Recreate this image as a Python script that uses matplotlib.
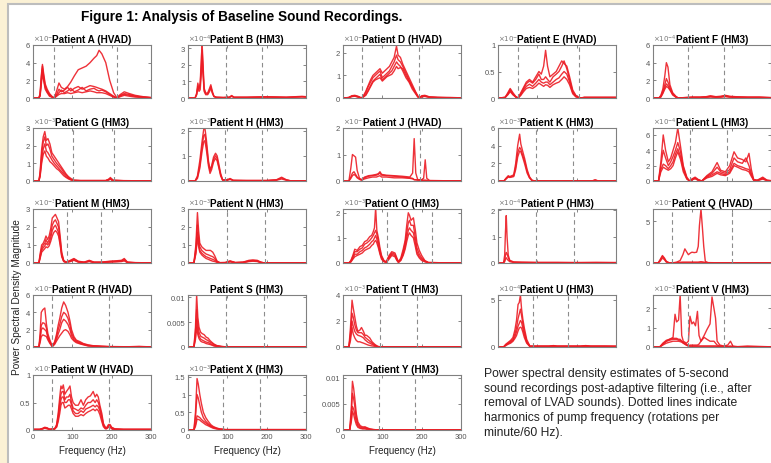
import matplotlib
matplotlib.use('Agg')
import matplotlib.pyplot as plt
from matplotlib.patches import Rectangle

plt.rcParams['font.family'] = ['Liberation Sans', 'DejaVu Sans']

# ---- data ----
patients = ['A', 'B', 'D', 'E', 'F',
            'G', 'H', 'J', 'K', 'L',
            'M', 'N', 'O', 'P', 'Q',
            'R', 'S', 'T', 'U', 'V',
            'W', 'X', 'Y']
pumps = ['HVAD', 'HM3', 'HVAD', 'HVAD', 'HM3',
         'HM3', 'HM3', 'HVAD', 'HM3', 'HM3',
         'HM3', 'HM3', 'HM3', 'HM3', 'HVAD',
         'HVAD', 'HM3', 'HM3', 'HM3', 'HM3',
         'HVAD', 'HM3', 'HM3']

# pump harmonics (Hz), dashed lines
harmonics = [[53, 213], [97, 189], [48, 193], [52, 207], [90, 180],
             [102, 207], [95, 187], [49, 196], [96, 190], [93, 187],
             [87, 172], [98, 195], [113, 225], [96, 193], [49, 200],
             [49, 194], [97, 193], [94, 189], [88, 178], [90, 180],
             [48, 194], [90, 184], [92, 184]]

# y-axis: exponent of the multiplier (None = plain), top limit, ticks
exponents = [-5, -4, -5, -5, -4,
             -3, -3, -5, -3, -4,
             -3, -3, -3, -4, -5,
             -5, None, -3, -4, -3,
             -5, -3, None]
ytops = [6, 3.2, 2.35, 1, 6,
         3, 2.1, 2, 6, 6.9,
         3, 3, 2.15, 2.05, 6.5,
         6, 0.0105, 4, 5.5, 2.7,
         1, 1.55, 0.0105]
yticks = [[0, 2, 4, 6], [0, 1, 2, 3], [0, 1, 2], [0, 0.5, 1], [0, 2, 4, 6],
          [0, 1, 2, 3], [0, 1, 2], [0, 1, 2], [0, 2, 4, 6], [0, 2, 4, 6],
          [0, 1, 2, 3], [0, 1, 2, 3], [0, 1, 2], [0, 1, 2], [0, 5],
          [0, 2, 4, 6], [0, 0.005, 0.01], [0, 2, 4], [0, 5], [0, 1, 2],
          [0, 0.5, 1], [0, 0.5, 1, 1.5], [0, 0.005, 0.01]]

freq_A = [0, 15, 18, 21, 24, 27, 31, 36, 42, 48, 54, 60, 66, 72, 80, 88, 96, 105, 115, 125, 135, 145, 155, 162, 168, 175, 185, 195, 205, 213, 222, 232, 245, 260, 280, 300]
psd_A = [
    [0, 0, 0.5, 2.5, 3.8, 2.8, 1.6, 1.0, 0.5, 0.2, 0, 0.8, 1.7, 1.2, 1.0, 1.3, 1.8, 2.5, 3.2, 3.4, 3.6, 4.0, 4.5, 4.8, 5.4, 5.0, 4.0, 2.0, 0.6, 0.05, 0.4, 0.7, 0.5, 0.3, 0.15, 0.05],
    [0, 0, 0.4, 2.2, 3.6, 2.5, 1.4, 0.8, 0.4, 0.15, 0, 0.4, 1.0, 0.7, 0.9, 1.2, 0.8, 1.1, 1.3, 1.0, 1.2, 1.4, 1.3, 1.2, 1.1, 1.0, 0.8, 0.5, 0.2, 0, 0.3, 0.5, 0.4, 0.2, 0.1, 0.05],
    [0, 0, 0.3, 1.8, 3.3, 2.2, 1.2, 0.7, 0.3, 0.1, 0, 0.3, 0.6, 0.9, 0.6, 0.8, 1.1, 0.7, 0.9, 1.2, 0.8, 1.0, 1.1, 0.9, 0.8, 0.9, 0.7, 0.4, 0.15, 0, 0.25, 0.4, 0.3, 0.2, 0.1, 0.03],
    [0, 0, 0.2, 1.5, 2.8, 2.0, 1.0, 0.6, 0.2, 0.1, 0, 0.2, 0.4, 0.5, 0.5, 0.6, 0.5, 0.6, 0.7, 0.6, 0.7, 0.8, 0.7, 0.6, 0.6, 0.6, 0.5, 0.3, 0.1, 0, 0.15, 0.3, 0.2, 0.1, 0.05, 0.02],
]

freq_B = [0, 18, 22, 25, 28, 31, 34, 36, 38, 41, 45, 50, 55, 58, 62, 66, 72, 90, 105, 111, 117, 150, 200, 250, 290, 300]
psd_B = [
    [0, 0, 0.3, 0.9, 0.6, 0.9, 2.5, 3.2, 2.2, 0.6, 0.3, 0.3, 0.6, 0.8, 0.4, 0.1, 0.05, 0.03, 0.05, 0.15, 0.05, 0.05, 0.08, 0.05, 0.1, 0.08],
    [0, 0, 0.2, 0.7, 0.5, 0.8, 2.0, 2.9, 1.8, 0.5, 0.25, 0.25, 0.5, 0.7, 0.3, 0.1, 0.04, 0.03, 0.04, 0.12, 0.04, 0.04, 0.06, 0.04, 0.08, 0.06],
    [0, 0, 0.2, 0.6, 0.4, 0.5, 1.5, 2.5, 1.5, 0.4, 0.2, 0.2, 0.4, 0.6, 0.3, 0.08, 0.03, 0.02, 0.03, 0.1, 0.03, 0.03, 0.05, 0.03, 0.06, 0.05],
]

freq_D = [0, 15, 22, 30, 38, 47, 52, 58, 64, 70, 76, 82, 88, 94, 100, 106, 112, 118, 124, 130, 136, 140, 146, 152, 160, 168, 176, 184, 190, 194, 200, 208, 220, 240, 270, 300]
psd_D = [
    [0, 0.02, 0.1, 0.12, 0.08, 0, 0.1, 0.3, 0.55, 0.8, 1.0, 1.1, 1.2, 1.3, 1.1, 1.2, 1.3, 1.4, 1.6, 1.8, 2.3, 1.9, 1.8, 1.5, 1.2, 0.9, 0.6, 0.3, 0.1, 0, 0.1, 0.12, 0.05, 0.03, 0.02, 0.01],
    [0, 0.02, 0.08, 0.1, 0.06, 0, 0.08, 0.25, 0.5, 0.7, 0.9, 1.0, 1.1, 1.2, 0.9, 1.0, 1.1, 1.2, 1.4, 1.6, 1.9, 1.7, 1.6, 1.4, 1.1, 0.8, 0.5, 0.25, 0.08, 0, 0.08, 0.1, 0.04, 0.02, 0.02, 0.01],
    [0, 0.02, 0.07, 0.09, 0.05, 0, 0.05, 0.15, 0.35, 0.55, 0.75, 0.85, 0.95, 1.05, 0.8, 0.9, 1.0, 1.1, 1.2, 1.4, 1.6, 1.5, 1.4, 1.2, 0.9, 0.7, 0.4, 0.2, 0.05, 0, 0.06, 0.08, 0.03, 0.02, 0.01, 0.01],
    [0, 0.02, 0.06, 0.08, 0.04, 0, 0.05, 0.12, 0.3, 0.5, 0.7, 0.8, 0.85, 0.9, 0.75, 0.85, 0.95, 1.0, 1.05, 1.2, 1.4, 1.3, 1.35, 1.3, 1.0, 0.75, 0.5, 0.25, 0.06, 0, 0.05, 0.07, 0.03, 0.02, 0.01, 0.01],
]

freq_E = [0, 18, 25, 31, 38, 45, 51, 58, 65, 72, 80, 88, 96, 104, 110, 116, 121, 126, 132, 140, 148, 155, 162, 168, 175, 182, 190, 198, 207, 220, 260, 300]
psd_E = [
    [0, 0.01, 0.1, 0.18, 0.1, 0.03, 0, 0.1, 0.2, 0.3, 0.35, 0.3, 0.4, 0.5, 0.45, 0.6, 0.9, 0.6, 0.4, 0.45, 0.5, 0.6, 0.7, 0.65, 0.6, 0.4, 0.15, 0.05, 0, 0.01, 0.01, 0.01],
    [0, 0.01, 0.08, 0.16, 0.08, 0.02, 0, 0.08, 0.18, 0.27, 0.32, 0.28, 0.35, 0.45, 0.35, 0.35, 0.4, 0.35, 0.3, 0.4, 0.45, 0.5, 0.6, 0.7, 0.55, 0.35, 0.12, 0.04, 0, 0.01, 0.01, 0.01],
    [0, 0.01, 0.07, 0.14, 0.07, 0.02, 0, 0.06, 0.15, 0.22, 0.26, 0.22, 0.28, 0.35, 0.3, 0.28, 0.3, 0.3, 0.25, 0.3, 0.35, 0.38, 0.45, 0.5, 0.45, 0.3, 0.1, 0.03, 0, 0.01, 0.01, 0.01],
    [0, 0.01, 0.06, 0.12, 0.06, 0.02, 0, 0.05, 0.12, 0.18, 0.2, 0.18, 0.22, 0.28, 0.25, 0.22, 0.25, 0.24, 0.2, 0.25, 0.28, 0.3, 0.35, 0.4, 0.35, 0.25, 0.08, 0.02, 0, 0.01, 0.01, 0.01],
]

freq_F = [0, 15, 20, 25, 30, 34, 38, 43, 50, 58, 64, 80, 100, 120, 135, 146, 160, 172, 184, 195, 210, 240, 270, 300]
psd_F = [
    [0, 0, 0.3, 1.0, 2.5, 4.0, 3.5, 1.5, 0.6, 0.2, 0, 0.05, 0.1, 0.1, 0.15, 0.25, 0.15, 0.2, 0.3, 0.2, 0.15, 0.1, 0.1, 0.05],
    [0, 0, 0.2, 0.8, 1.5, 2.2, 1.8, 1.2, 0.5, 0.15, 0, 0.04, 0.08, 0.08, 0.12, 0.2, 0.12, 0.15, 0.25, 0.15, 0.1, 0.08, 0.08, 0.04],
    [0, 0, 0.15, 0.6, 1.2, 1.6, 1.4, 1.0, 0.4, 0.1, 0, 0.03, 0.06, 0.06, 0.1, 0.15, 0.1, 0.12, 0.2, 0.12, 0.08, 0.06, 0.06, 0.03],
    [0, 0, 0.1, 0.5, 1.0, 1.3, 1.2, 0.9, 0.35, 0.1, 0, 0.02, 0.05, 0.05, 0.08, 0.12, 0.08, 0.1, 0.15, 0.1, 0.06, 0.05, 0.05, 0.02],
]

freq_G = [0, 15, 18, 22, 26, 30, 34, 38, 43, 48, 54, 60, 66, 72, 78, 84, 90, 96, 102, 120, 150, 185, 192, 197, 202, 230, 300]
psd_G = [
    [0, 0, 0.5, 1.8, 2.5, 2.8, 2.3, 2.4, 2.1, 1.6, 1.4, 1.2, 1.0, 0.8, 0.6, 0.4, 0.25, 0.15, 0.05, 0.03, 0.03, 0.03, 0.1, 0.2, 0.05, 0.02, 0.01],
    [0, 0, 0.4, 1.5, 2.2, 2.5, 2.0, 2.1, 1.8, 1.4, 1.2, 1.0, 0.85, 0.7, 0.5, 0.35, 0.2, 0.1, 0.04, 0.02, 0.02, 0.02, 0.08, 0.15, 0.04, 0.02, 0.01],
    [0, 0, 0.3, 1.2, 1.8, 2.1, 1.7, 1.6, 1.4, 1.2, 1.0, 0.85, 0.7, 0.55, 0.4, 0.25, 0.15, 0.08, 0.03, 0.02, 0.02, 0.02, 0.06, 0.12, 0.03, 0.01, 0.01],
    [0, 0, 0.25, 1.0, 1.5, 1.7, 1.4, 1.3, 1.1, 1.0, 0.85, 0.7, 0.6, 0.45, 0.3, 0.2, 0.12, 0.06, 0.02, 0.01, 0.01, 0.01, 0.05, 0.1, 0.02, 0.01, 0.01],
]

freq_H = [0, 18, 24, 30, 36, 40, 43, 47, 52, 56, 60, 65, 70, 74, 78, 83, 88, 100, 107, 115, 150, 200, 225, 238, 250, 260, 300]
psd_H = [
    [0, 0, 0.2, 0.8, 1.6, 2.05, 2.1, 1.6, 0.8, 0.45, 0.6, 0.95, 1.1, 1.0, 0.7, 0.3, 0.05, 0.05, 0.1, 0.03, 0.02, 0.02, 0.05, 0.15, 0.05, 0.01, 0.01],
    [0, 0, 0.15, 0.6, 1.4, 1.8, 1.85, 1.4, 0.7, 0.4, 0.55, 0.85, 1.0, 0.9, 0.6, 0.25, 0.04, 0.04, 0.08, 0.02, 0.02, 0.02, 0.04, 0.12, 0.04, 0.01, 0.01],
    [0, 0, 0.1, 0.5, 1.2, 1.55, 1.6, 1.2, 0.6, 0.3, 0.45, 0.75, 0.9, 0.8, 0.55, 0.2, 0.03, 0.03, 0.06, 0.02, 0.01, 0.01, 0.03, 0.08, 0.03, 0.01, 0.01],
]

freq_J = [0, 15, 20, 24, 28, 32, 36, 42, 47, 55, 65, 75, 85, 90, 94, 98, 110, 130, 150, 170, 177, 181, 185, 190, 200, 205, 209, 213, 220, 260, 300]
psd_J = [
    [0, 0, 0.5, 1.0, 0.95, 0.9, 0.4, 0.1, 0.05, 0.15, 0.2, 0.22, 0.25, 0.28, 0.35, 0.25, 0.22, 0.2, 0.18, 0.15, 0.3, 1.6, 0.3, 0.05, 0.05, 0.1, 0.8, 0.1, 0.02, 0.01, 0.01],
    [0, 0, 0.15, 0.3, 0.35, 0.25, 0.15, 0.08, 0.04, 0.12, 0.18, 0.2, 0.22, 0.25, 0.3, 0.22, 0.2, 0.18, 0.15, 0.12, 0.1, 0.05, 0.05, 0.04, 0.03, 0.03, 0.03, 0.02, 0.01, 0.01, 0.01],
    [0, 0, 0.1, 0.2, 0.25, 0.2, 0.12, 0.06, 0.03, 0.08, 0.12, 0.15, 0.15, 0.18, 0.2, 0.15, 0.15, 0.12, 0.12, 0.1, 0.08, 0.05, 0.04, 0.03, 0.02, 0.02, 0.02, 0.02, 0.01, 0.01, 0.01],
]

freq_K = [0, 15, 20, 26, 30, 35, 40, 45, 50, 55, 58, 62, 68, 74, 80, 86, 92, 150, 240, 247, 254, 300]
psd_K = [
    [0, 0, 0.3, 0.6, 0.5, 0.6, 0.7, 2.0, 4.0, 5.3, 4.2, 3.5, 2.5, 1.3, 0.5, 0.1, 0.02, 0.01, 0.02, 0.12, 0.02, 0.01],
    [0, 0, 0.25, 0.5, 0.45, 0.5, 0.6, 1.6, 3.2, 3.8, 3.6, 3.0, 2.2, 1.1, 0.4, 0.08, 0.02, 0.01, 0.02, 0.1, 0.02, 0.01],
    [0, 0, 0.2, 0.45, 0.4, 0.45, 0.5, 1.3, 2.7, 3.4, 3.3, 2.8, 1.9, 0.9, 0.35, 0.06, 0.01, 0.01, 0.01, 0.08, 0.01, 0.01],
]

freq_L = [0, 14, 20, 26, 32, 39, 45, 51, 57, 63, 70, 77, 86, 93, 100, 107, 115, 124, 137, 150, 163, 172, 184, 195, 206, 215, 227, 236, 244, 250, 256, 265, 279, 290, 300]
psd_L = [
    [0, 0, 2.5, 6.0, 4.0, 2.5, 3.0, 4.0, 5.0, 6.9, 4.5, 2.0, 0.5, 0, 0.3, 0.5, 0.2, 0, 0.7, 1.2, 2.4, 1.4, 1.2, 2.0, 3.8, 3.0, 2.8, 2.5, 3.6, 1.5, 0.2, 0.1, 0.5, 0.1, 0.05],
    [0, 0, 2.0, 4.0, 3.0, 2.0, 2.5, 3.2, 4.0, 5.0, 3.8, 1.8, 0.4, 0, 0.25, 0.4, 0.15, 0, 0.6, 1.0, 1.8, 1.2, 1.0, 1.5, 3.0, 2.5, 2.3, 3.0, 2.0, 1.0, 0.15, 0.08, 0.4, 0.08, 0.04],
    [0, 0, 1.5, 2.2, 2.0, 1.6, 2.0, 2.5, 3.5, 4.2, 3.2, 1.5, 0.3, 0, 0.2, 0.35, 0.1, 0, 0.5, 0.8, 1.2, 1.0, 0.8, 1.2, 2.3, 2.0, 1.8, 1.6, 1.5, 0.8, 0.1, 0.05, 0.3, 0.06, 0.03],
    [0, 0, 1.2, 1.8, 1.6, 1.4, 1.6, 2.0, 3.0, 3.8, 2.8, 1.2, 0.25, 0, 0.15, 0.3, 0.08, 0, 0.4, 0.6, 1.0, 0.8, 0.7, 1.0, 2.0, 1.8, 1.5, 1.4, 1.2, 0.6, 0.08, 0.04, 0.25, 0.05, 0.02],
]

freq_M = [0, 15, 18, 22, 26, 30, 33, 37, 41, 45, 49, 53, 57, 61, 65, 69, 73, 78, 84, 95, 104, 115, 130, 143, 155, 175, 195, 210, 225, 232, 240, 260, 300]
psd_M = [
    [0, 0, 0.5, 1.0, 1.1, 1.3, 1.5, 1.3, 1.5, 1.9, 2.5, 2.6, 2.7, 2.5, 2.3, 1.5, 0.6, 0.15, 0.05, 0.15, 0.25, 0.1, 0.05, 0.15, 0.05, 0.05, 0.1, 0.12, 0.15, 0.25, 0.05, 0.02, 0.01],
    [0, 0, 0.4, 0.8, 1.0, 1.1, 1.3, 1.1, 1.3, 1.6, 2.1, 2.3, 2.4, 2.2, 2.0, 1.3, 0.5, 0.12, 0.04, 0.12, 0.22, 0.08, 0.04, 0.12, 0.04, 0.04, 0.08, 0.1, 0.12, 0.2, 0.04, 0.02, 0.01],
    [0, 0, 0.3, 0.7, 0.85, 0.95, 1.1, 1.0, 1.1, 1.4, 1.8, 2.0, 2.1, 1.9, 1.7, 1.1, 0.4, 0.1, 0.03, 0.1, 0.18, 0.06, 0.03, 0.1, 0.03, 0.03, 0.06, 0.08, 0.1, 0.15, 0.03, 0.01, 0.01],
    [0, 0, 0.25, 0.6, 0.7, 0.8, 0.9, 0.85, 0.95, 1.2, 1.5, 1.7, 1.8, 1.7, 1.5, 1.0, 0.35, 0.08, 0.02, 0.08, 0.15, 0.05, 0.02, 0.08, 0.02, 0.02, 0.05, 0.06, 0.08, 0.12, 0.02, 0.01, 0.01],
]

freq_N = [0, 15, 20, 24, 27, 30, 35, 40, 46, 52, 57, 63, 68, 74, 81, 95, 107, 120, 140, 155, 165, 176, 185, 193, 230, 300]
psd_N = [
    [0, 0, 1.0, 2.8, 1.8, 1.1, 0.9, 0.8, 0.7, 0.7, 0.7, 0.6, 0.4, 0.1, 0.02, 0.03, 0.12, 0.03, 0.05, 0.15, 0.17, 0.15, 0.05, 0.01, 0.01, 0.01],
    [0, 0, 0.8, 2.1, 1.4, 0.9, 0.7, 0.6, 0.5, 0.45, 0.4, 0.35, 0.25, 0.08, 0.02, 0.02, 0.1, 0.02, 0.04, 0.12, 0.14, 0.12, 0.04, 0.01, 0.01, 0.01],
    [0, 0, 0.6, 1.7, 1.1, 0.7, 0.55, 0.45, 0.35, 0.3, 0.25, 0.2, 0.15, 0.05, 0.01, 0.02, 0.08, 0.02, 0.03, 0.1, 0.12, 0.1, 0.03, 0.01, 0.01, 0.01],
    [0, 0, 0.5, 1.4, 0.9, 0.6, 0.45, 0.35, 0.25, 0.2, 0.15, 0.1, 0.08, 0.03, 0.01, 0.01, 0.06, 0.01, 0.02, 0.08, 0.1, 0.08, 0.02, 0.01, 0.01, 0.01],
]

freq_O = [0, 15, 20, 25, 30, 36, 43, 49, 55, 61, 68, 73, 77, 80, 83, 86, 90, 94, 98, 104, 110, 117, 124, 132, 137, 141, 147, 153, 158, 162, 166, 169, 173, 179, 184, 188, 194, 200, 208, 217, 250, 300]
psd_O = [
    [0, 0, 0.1, 0.3, 0.55, 0.5, 0.65, 0.7, 0.85, 0.9, 1.05, 1.1, 1.25, 1.4, 2.2, 1.3, 1.0, 0.6, 0.3, 0.1, 0.05, 0.3, 0.45, 0.4, 0.2, 0.05, 0.2, 0.55, 0.9, 1.5, 2.0, 1.9, 1.7, 1.8, 1.3, 0.8, 0.5, 0.3, 0.1, 0.02, 0.01, 0.01],
    [0, 0, 0.08, 0.25, 0.45, 0.45, 0.55, 0.6, 0.75, 0.8, 0.9, 1.0, 1.1, 1.2, 1.3, 1.15, 0.85, 0.5, 0.25, 0.08, 0.04, 0.25, 0.4, 0.35, 0.15, 0.04, 0.15, 0.45, 0.8, 1.2, 1.6, 1.7, 1.5, 1.5, 1.0, 0.6, 0.35, 0.2, 0.08, 0.02, 0.01, 0.01],
    [0, 0, 0.05, 0.18, 0.35, 0.35, 0.45, 0.5, 0.6, 0.65, 0.75, 0.85, 0.9, 1.0, 1.1, 0.95, 0.7, 0.4, 0.2, 0.06, 0.03, 0.2, 0.35, 0.3, 0.12, 0.03, 0.12, 0.35, 0.65, 1.0, 1.3, 1.4, 1.3, 1.2, 0.8, 0.45, 0.25, 0.15, 0.06, 0.01, 0.01, 0.01],
    [0, 0, 0.04, 0.15, 0.25, 0.3, 0.35, 0.4, 0.5, 0.55, 0.6, 0.7, 0.75, 0.85, 0.9, 0.8, 0.6, 0.35, 0.15, 0.05, 0.02, 0.15, 0.3, 0.25, 0.1, 0.02, 0.1, 0.3, 0.55, 0.85, 1.1, 1.2, 1.1, 1.0, 0.65, 0.35, 0.2, 0.1, 0.05, 0.01, 0.01, 0.01],
]

freq_P = [0, 14, 17, 19, 21, 23, 26, 30, 40, 60, 100, 150, 200, 250, 300]
psd_P = [
    [0, 0, 0.3, 1.2, 1.8, 1.0, 0.3, 0.1, 0.04, 0.03, 0.02, 0.02, 0.02, 0.02, 0.02],
    [0, 0, 0.1, 0.3, 0.4, 0.35, 0.2, 0.08, 0.03, 0.02, 0.02, 0.02, 0.01, 0.02, 0.01],
    [0, 0, 0.05, 0.15, 0.2, 0.15, 0.1, 0.05, 0.02, 0.02, 0.01, 0.01, 0.01, 0.01, 0.01],
]

freq_Q = [0, 13, 18, 24, 29, 34, 40, 47, 60, 69, 76, 81, 86, 90, 95, 99, 105, 111, 115, 118, 122, 126, 129, 133, 140, 160, 200, 250, 300]
psd_Q = [
    [0, 0, 0.4, 0.9, 0.6, 0.2, 0.05, 0, 0.1, 0.3, 1.0, 1.7, 1.3, 1.0, 1.2, 1.3, 1.25, 1.3, 2.0, 4.5, 6.5, 4.0, 2.0, 0.2, 0.05, 0.03, 0.03, 0.02, 0.01],
    [0, 0, 0.3, 0.8, 0.5, 0.15, 0.04, 0, 0.05, 0.08, 0.1, 0.1, 0.1, 0.1, 0.1, 0.1, 0.1, 0.1, 0.1, 0.12, 0.15, 0.12, 0.1, 0.05, 0.03, 0.02, 0.02, 0.02, 0.01],
    [0, 0, 0.2, 0.6, 0.4, 0.1, 0.03, 0, 0.03, 0.05, 0.06, 0.06, 0.06, 0.06, 0.06, 0.06, 0.06, 0.06, 0.06, 0.08, 0.1, 0.08, 0.06, 0.04, 0.02, 0.02, 0.01, 0.01, 0.01],
]

freq_R = [0, 15, 18, 21, 25, 30, 34, 38, 43, 49, 55, 60, 64, 68, 73, 78, 83, 89, 94, 98, 104, 110, 120, 128, 140, 153, 175, 196, 240, 270, 300]
psd_R = [
    [0, 0, 1.5, 4.0, 4.3, 4.5, 2.7, 1.5, 0.8, 0.1, 0.6, 1.5, 2.5, 3.3, 4.5, 5.2, 4.8, 4.0, 3.0, 2.0, 1.2, 0.8, 0.6, 0.4, 0.25, 0.15, 0.08, 0.05, 0.03, 0.06, 0.02],
    [0, 0, 1.0, 2.5, 2.8, 2.7, 2.2, 1.2, 0.6, 0.08, 0.5, 1.2, 2.0, 2.6, 3.5, 4.0, 3.8, 3.3, 2.5, 1.6, 1.0, 0.7, 0.5, 0.35, 0.2, 0.12, 0.07, 0.04, 0.03, 0.05, 0.02],
    [0, 0, 0.8, 2.0, 2.2, 2.0, 1.8, 1.0, 0.5, 0.05, 0.4, 0.9, 1.5, 2.0, 2.8, 3.2, 3.0, 2.6, 2.0, 1.3, 0.8, 0.6, 0.4, 0.3, 0.15, 0.1, 0.06, 0.03, 0.02, 0.04, 0.01],
    [0, 0, 0.5, 1.2, 1.4, 1.3, 1.2, 0.8, 0.4, 0.05, 0.3, 0.7, 1.0, 1.3, 1.6, 1.9, 2.0, 1.8, 1.4, 1.0, 0.7, 0.5, 0.35, 0.25, 0.12, 0.08, 0.05, 0.03, 0.02, 0.03, 0.01],
]

freq_S = [0, 15, 19, 22, 25, 28, 32, 36, 41, 46, 51, 56, 60, 66, 73, 80, 86, 95, 150, 300]
psd_S = [
    [0, 0, 0.004, 0.0105, 0.006, 0.004, 0.003, 0.0027, 0.0025, 0.002, 0.0018, 0.0013, 0.001, 0.0006, 0.0003, 0.0002, 0.0001, 0.00005, 0.00002, 0.00001],
    [0, 0, 0.003, 0.0075, 0.0045, 0.003, 0.0022, 0.002, 0.0018, 0.0015, 0.0013, 0.001, 0.0008, 0.0005, 0.00025, 0.00015, 0.0001, 0.00004, 0.00002, 0.00001],
    [0, 0, 0.002, 0.0055, 0.0033, 0.0022, 0.0016, 0.0014, 0.0012, 0.001, 0.0009, 0.0007, 0.0005, 0.0003, 0.00015, 0.0001, 0.00005, 0.00003, 0.00001, 0.00001],
    [0, 0, 0.0015, 0.004, 0.0025, 0.0017, 0.0012, 0.001, 0.0009, 0.0007, 0.0006, 0.0005, 0.0004, 0.0002, 0.0001, 0.00005, 0.00003, 0.00002, 0.00001, 0.00001],
]

freq_T = [0, 15, 19, 23, 26, 30, 34, 38, 43, 47, 52, 56, 60, 64, 68, 74, 81, 88, 94, 150, 300]
psd_T = [
    [0, 0, 1.5, 3.6, 3.0, 2.3, 1.6, 1.2, 1.3, 1.5, 1.2, 0.9, 0.9, 0.8, 0.7, 0.4, 0.2, 0.05, 0.02, 0.01, 0.01],
    [0, 0, 1.0, 2.6, 2.3, 1.7, 1.3, 1.1, 1.1, 1.1, 0.95, 0.75, 0.65, 0.55, 0.45, 0.3, 0.15, 0.04, 0.01, 0.01, 0.01],
    [0, 0, 0.8, 2.0, 1.6, 1.2, 1.0, 0.9, 0.85, 0.8, 0.7, 0.55, 0.45, 0.35, 0.3, 0.2, 0.1, 0.03, 0.01, 0.01, 0.01],
    [0, 0, 0.5, 1.5, 1.0, 0.7, 0.5, 0.4, 0.4, 0.35, 0.3, 0.25, 0.2, 0.15, 0.12, 0.08, 0.05, 0.02, 0.01, 0.01, 0.01],
]

freq_U = [0, 14, 20, 26, 32, 38, 43, 47, 51, 54, 57, 60, 63, 67, 73, 81, 90, 110, 130, 141, 150, 180, 210, 223, 235, 270, 300]
psd_U = [
    [0, 0, 0.3, 0.5, 0.7, 1.0, 1.8, 2.8, 4.5, 4.7, 5.5, 4.0, 3.0, 2.0, 0.8, 0.1, 0.1, 0.1, 0.1, 0.15, 0.1, 0.1, 0.1, 0.15, 0.1, 0.1, 0.1],
    [0, 0, 0.25, 0.4, 0.6, 0.8, 1.4, 2.0, 3.0, 3.5, 4.0, 3.3, 2.5, 1.6, 0.6, 0.08, 0.08, 0.08, 0.08, 0.12, 0.08, 0.08, 0.08, 0.12, 0.08, 0.08, 0.06],
    [0, 0, 0.2, 0.35, 0.5, 0.7, 1.1, 1.6, 2.2, 2.5, 2.8, 2.6, 2.0, 1.3, 0.5, 0.06, 0.06, 0.06, 0.06, 0.1, 0.06, 0.06, 0.06, 0.1, 0.06, 0.06, 0.05],
    [0, 0, 0.15, 0.3, 0.4, 0.6, 0.9, 1.2, 1.7, 2.0, 2.1, 2.0, 1.6, 1.0, 0.4, 0.05, 0.05, 0.05, 0.05, 0.08, 0.05, 0.05, 0.05, 0.08, 0.05, 0.05, 0.04],
]

freq_V = [0, 17, 25, 34, 42, 51, 56, 60, 65, 69, 73, 77, 85, 90, 94, 99, 103, 108, 113, 117, 122, 130, 137, 145, 150, 155, 159, 163, 170, 180, 190, 197, 203, 215, 240, 300]
psd_V = [
    [0, 0, 0.15, 0.3, 0.4, 0.5, 1.7, 1.3, 1.4, 2.7, 0.6, 0.3, 0.2, 0.3, 1.6, 1.2, 1.3, 1.1, 1.85, 0.6, 0.3, 0.6, 0.9, 1.2, 2.6, 2.0, 1.5, 0.3, 0.1, 0.05, 0.1, 0.3, 0.05, 0.02, 0.05, 0.01],
    [0, 0, 0.2, 0.35, 0.4, 0.45, 0.45, 0.45, 0.4, 0.4, 0.3, 0.2, 0.1, 0.05, 0.1, 0.1, 0.1, 0.1, 0.1, 0.15, 0.3, 0.5, 0.4, 0.3, 0.3, 0.3, 0.2, 0.1, 0.05, 0.03, 0.03, 0.05, 0.02, 0.01, 0.02, 0.01],
    [0, 0, 0.15, 0.3, 0.35, 0.4, 0.4, 0.4, 0.35, 0.35, 0.3, 0.25, 0.15, 0.08, 0.05, 0.05, 0.05, 0.05, 0.05, 0.05, 0.05, 0.05, 0.05, 0.05, 0.05, 0.05, 0.05, 0.04, 0.03, 0.02, 0.02, 0.02, 0.02, 0.01, 0.01, 0.01],
    [0, 0, 0.1, 0.2, 0.25, 0.3, 0.3, 0.3, 0.3, 0.28, 0.25, 0.2, 0.1, 0.05, 0.04, 0.04, 0.04, 0.04, 0.04, 0.04, 0.04, 0.04, 0.04, 0.04, 0.04, 0.04, 0.04, 0.03, 0.02, 0.02, 0.02, 0.02, 0.02, 0.01, 0.01, 0.01],
]

freq_W = [0, 17, 24, 30, 36, 43, 50, 55, 60, 64, 68, 71, 74, 77, 81, 85, 90, 94, 98, 102, 108, 115, 122, 128, 134, 140, 146, 153, 158, 162, 166, 170, 175, 179, 184, 187, 192, 196, 200, 208, 230, 260, 300]
psd_W = [
    [0.01, 0.01, 0.03, 0.05, 0.04, 0.01, 0.02, 0.02, 0.1, 0.3, 0.6, 0.8, 0.75, 0.82, 0.65, 0.7, 0.75, 0.8, 0.6, 0.5, 0.45, 0.45, 0.55, 0.45, 0.55, 0.6, 0.62, 0.7, 0.6, 0.65, 0.6, 0.45, 0.3, 0.12, 0.05, 0.04, 0.1, 0.1, 0.05, 0.02, 0.01, 0.01, 0.01],
    [0.01, 0.01, 0.02, 0.04, 0.03, 0.01, 0.02, 0.02, 0.08, 0.25, 0.5, 0.65, 0.7, 0.7, 0.55, 0.6, 0.6, 0.65, 0.5, 0.4, 0.38, 0.35, 0.4, 0.38, 0.45, 0.5, 0.5, 0.55, 0.5, 0.55, 0.5, 0.4, 0.25, 0.1, 0.04, 0.03, 0.08, 0.08, 0.04, 0.02, 0.01, 0.01, 0.01],
    [0.01, 0.01, 0.02, 0.04, 0.03, 0.01, 0.02, 0.02, 0.06, 0.2, 0.4, 0.55, 0.6, 0.6, 0.5, 0.5, 0.55, 0.55, 0.45, 0.35, 0.3, 0.3, 0.35, 0.32, 0.38, 0.4, 0.42, 0.45, 0.42, 0.45, 0.42, 0.35, 0.2, 0.08, 0.03, 0.03, 0.06, 0.07, 0.03, 0.01, 0.01, 0.01, 0.01],
    [0.01, 0.01, 0.02, 0.03, 0.02, 0.01, 0.01, 0.02, 0.05, 0.15, 0.3, 0.45, 0.5, 0.5, 0.4, 0.42, 0.45, 0.45, 0.38, 0.3, 0.25, 0.25, 0.28, 0.26, 0.3, 0.33, 0.35, 0.38, 0.35, 0.38, 0.35, 0.28, 0.15, 0.06, 0.02, 0.02, 0.05, 0.05, 0.02, 0.01, 0.01, 0.01, 0.01],
]

freq_X = [0, 15, 19, 23, 26, 30, 34, 39, 45, 51, 58, 64, 72, 81, 95, 150, 300]
psd_X = [
    [0, 0, 0.5, 1.45, 1.3, 1.0, 0.75, 0.5, 0.35, 0.25, 0.15, 0.1, 0.06, 0.03, 0.01, 0.01, 0.01],
    [0, 0, 0.35, 1.0, 0.9, 0.7, 0.5, 0.35, 0.25, 0.18, 0.12, 0.08, 0.05, 0.02, 0.01, 0.01, 0.01],
    [0, 0, 0.15, 0.4, 0.38, 0.35, 0.3, 0.25, 0.2, 0.15, 0.1, 0.07, 0.04, 0.02, 0.01, 0.01, 0.01],
    [0, 0, 0.1, 0.3, 0.3, 0.28, 0.24, 0.2, 0.15, 0.12, 0.08, 0.05, 0.03, 0.02, 0.01, 0.01, 0.01],
]

freq_Y = [0, 17, 21, 24, 27, 30, 34, 38, 44, 50, 56, 62, 69, 78, 86, 150, 300]
psd_Y = [
    [0, 0, 0.004, 0.0093, 0.008, 0.006, 0.003, 0.0015, 0.0008, 0.0006, 0.0006, 0.0004, 0.0002, 0.0001, 0.00002, 0.00001, 0.00001],
    [0, 0, 0.003, 0.007, 0.006, 0.0045, 0.0022, 0.0011, 0.0006, 0.0004, 0.0005, 0.0003, 0.00015, 0.00005, 0.00002, 0.00001, 0.00001],
    [0, 0, 0.002, 0.0045, 0.004, 0.003, 0.0015, 0.0008, 0.0004, 0.0003, 0.0003, 0.0002, 0.0001, 0.00004, 0.00001, 0.00001, 0.00001],
    [0, 0, 0.0015, 0.0035, 0.003, 0.002, 0.001, 0.0005, 0.0003, 0.0002, 0.0002, 0.0001, 0.00005, 0.00002, 0.00001, 0.00001, 0.00001],
]

freqs = [freq_A, freq_B, freq_D, freq_E, freq_F, freq_G, freq_H, freq_J, freq_K, freq_L,
         freq_M, freq_N, freq_O, freq_P, freq_Q, freq_R, freq_S, freq_T, freq_U, freq_V,
         freq_W, freq_X, freq_Y]
psds = [psd_A, psd_B, psd_D, psd_E, psd_F, psd_G, psd_H, psd_J, psd_K, psd_L,
        psd_M, psd_N, psd_O, psd_P, psd_Q, psd_R, psd_S, psd_T, psd_U, psd_V,
        psd_W, psd_X, psd_Y]

caption = ("Power spectral density estimates of 5-second\n"
           "sound recordings post-adaptive filtering (i.e., after\n"
           "removal of LVAD sounds). Dotted lines indicate\n"
           "harmonics of pump frequency (rotations per\n"
           "minute/60 Hz).")

# ---- figure ----
W, H = 771, 464
fig = plt.figure(figsize=(W / 100, H / 100), dpi=100)
fig.patch.set_facecolor('#FBF1D5')
# white panel with grey edge
fig.add_artist(Rectangle((8 / W, -0.01), 1.0, (H - 5) / H + 0.01,
                         transform=fig.transFigure, facecolor='white',
                         edgecolor='#BDBDBD', linewidth=1.5, zorder=0))

col_left = [33, 188, 343, 498, 653]
row_top = [46, 129, 210, 296, 376]
row_h = [53, 53, 54, 52, 55]
ax_w = 118

red = '#EC1C24'
grey = '#808080'

for i, name in enumerate(patients):
    r, c = divmod(i, 5)
    left = col_left[c] / W
    bottom = 1 - (row_top[r] + row_h[r]) / H
    ax = fig.add_axes([left, bottom, ax_w / W, row_h[r] / H])

    for tr in psds[i]:
        ax.plot(freqs[i], tr, color=red, lw=1.0, alpha=0.9)
    for hz in harmonics[i]:
        ax.axvline(hz, color='#8C8C8C', lw=0.8, ls=(0, (4, 3)))

    ax.set_xlim(0, 300)
    ax.set_ylim(0, ytops[i])
    ax.set_xticks([0, 100, 200, 300])
    ax.set_yticks(yticks[i])
    ax.set_yticklabels([('%g' % v) for v in yticks[i]])
    ax.tick_params(direction='in', length=2, width=0.5, colors='#555555',
                   labelsize=5.5, top=True, right=True, pad=2)
    for sp in ax.spines.values():
        sp.set_color(grey)
        sp.set_linewidth(0.8)

    if r == 4:
        ax.set_xticklabels(['0', '100', '200', '300'])
        ax.set_xlabel('Frequency (Hz)', fontsize=7, color='#222222', labelpad=3.5)
    else:
        ax.set_xticklabels([])

    if exponents[i] is not None:
        ax.text(0.0, 1.01, r'$\times10^{%d}$' % exponents[i], transform=ax.transAxes,
                fontsize=5, color='#777777', ha='left', va='bottom')
    # title sits on top of the exponent label, as in the original export
    ax.set_title('Patient %s (%s)' % (name, pumps[i]), fontsize=7.2,
                 fontweight='bold', pad=2,
                 bbox=dict(facecolor='white', edgecolor='none', pad=0.3))

fig.text(242 / W, 1 - 17 / H, 'Figure 1: Analysis of Baseline Sound Recordings.',
         fontsize=9.8, fontweight='bold', ha='center', va='center')
fig.text(17 / W, 1 - 297 / H, 'Power Spectral Density Magnitude', fontsize=7.3,
         rotation=90, ha='center', va='center', color='#222222')
fig.text(484 / W, 1 - 368 / H, caption, fontsize=8.7, ha='left', va='top',
         linespacing=1.3, color='#222222')

fig.savefig('out.png', dpi=100, facecolor=fig.get_facecolor())
